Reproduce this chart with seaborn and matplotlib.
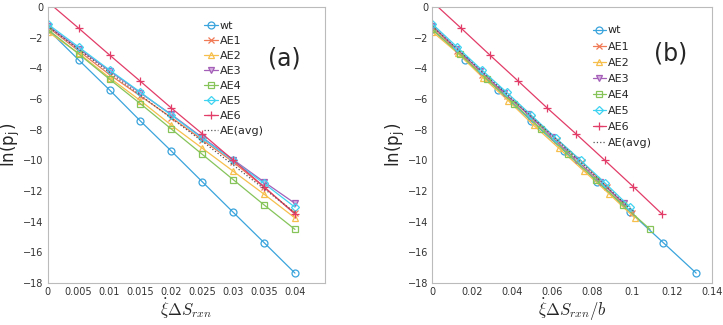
import numpy as np
import pandas as pd
import matplotlib
matplotlib.use("Agg")
import matplotlib.pyplot as plt
import seaborn as sns

sns.set_theme(style="white")
plt.rcParams["font.family"] = ["DejaVu Sans"]
plt.rcParams["mathtext.fontset"] = "cm"

# rate * entropy production (panel a x values)
xi_ds = [0, 0.005, 0.01, 0.015, 0.02, 0.025, 0.03, 0.035, 0.04]

series_names = ["wt", "AE1", "AE2", "AE3", "AE4", "AE5", "AE6", "AE(avg)"]
wt = [-1.45, -3.44, -5.40, -7.43, -9.39, -11.39, -13.38, -15.36, -17.35]
ae1 = [-1.30, -2.85, -4.40, -5.80, -7.20, -8.65, -10.10, -11.75, -13.45]
ae2 = [-1.60, -3.00, -4.60, -6.10, -7.70, -9.20, -10.70, -12.20, -13.75]
ae3 = [-1.20, -2.70, -4.15, -5.60, -7.00, -8.50, -9.95, -11.40, -12.80]
ae4 = [-1.45, -3.05, -4.70, -6.30, -7.95, -9.60, -11.25, -12.90, -14.50]
ae5 = [-1.10, -2.60, -4.10, -5.55, -7.05, -8.55, -10.00, -11.50, -13.05]
ae6 = [0.35, -1.37, -3.12, -4.84, -6.58, -8.26, -9.98, -11.72, -13.50]
ae_avg = [-1.25, -2.75, -4.25, -5.75, -7.25, -8.75, -10.30, -11.85, -13.40]
ln_p = [wt, ae1, ae2, ae3, ae4, ae5, ae6, ae_avg]

# b values per series (panel b x = xi_ds / b)
b_vals = [0.303, 0.400, 0.395, 0.417, 0.367, 0.404, 0.348, 0.396]

colors = ["#3aa4dc", "#f07a55", "#f6bf4c", "#a45fb8", "#86c45a", "#3fd3f2", "#e23c68", "#555555"]
markers = ["o", "x", "^", "v", "s", "D", "+", None]
msizes = [5, 4, 5, 5, 4, 4.5, 6, 0]

fig = plt.figure(figsize=(7.23, 3.25), dpi=100)
ax_a = fig.add_axes([0.066, 0.129, 0.383, 0.849])
ax_b = fig.add_axes([0.598, 0.129, 0.387, 0.849])

for ax, panel in [(ax_a, "a"), (ax_b, "b")]:
    for i, name in enumerate(series_names):
        x = np.array(xi_ds) if panel == "a" else np.array(xi_ds) / b_vals[i]
        df = pd.DataFrame({"x": x, "y": ln_p[i]})
        kw = dict(color=colors[i], lw=0.9, label=name, sort=False, ax=ax)
        if markers[i] is None:
            sns.lineplot(data=df, x="x", y="y", linestyle=":", **kw)
        else:
            mfc = colors[i] if markers[i] in ("x", "+") else "none"
            if markers[i] == "v":
                mfc = "#d6b0e0"
            sns.lineplot(data=df, x="x", y="y", marker=markers[i], ms=msizes[i],
                         mfc=mfc, mec=colors[i], mew=0.9, **kw)

    ax.set_ylim(-18, 0)
    ax.set_yticks(np.arange(-18, 1, 2))
    ax.set_ylabel(r"ln(p$_\mathregular{j}$)", fontsize=12, labelpad=0)
    ax.tick_params(direction="in", length=3, labelsize=7, colors="#333333", pad=3)
    for sp in ax.spines.values():
        sp.set_color("#bbbbbb")
        sp.set_linewidth(0.8)

ax_a.legend(loc="upper left", bbox_to_anchor=(0.55, 0.965), frameon=False,
            fontsize=8, handlelength=1.2, handletextpad=0.15,
            labelspacing=0.45, borderaxespad=0)
ax_b.legend(loc="upper left", bbox_to_anchor=(0.557, 0.95), frameon=False,
            fontsize=8, handlelength=1.2, handletextpad=0.15,
            labelspacing=0.55, borderaxespad=0)

ax_a.set_xlim(0, 0.0448)
ax_a.set_xticks(xi_ds)
ax_a.set_xticklabels(["0", "0.005", "0.01", "0.015", "0.02", "0.025", "0.03", "0.035", "0.04"])
ax_a.set_xlabel(r"$\dot{\xi}\Delta S_{rxn}$", fontsize=12, labelpad=0)
ax_a.text(0.856, 0.815, "(a)", transform=ax_a.transAxes, fontsize=17, ha="center", va="center")

ax_b.set_xlim(0, 0.14)
ax_b.set_xticks(np.arange(0, 0.141, 0.02))
ax_b.set_xticklabels(["0", "0.02", "0.04", "0.06", "0.08", "0.1", "0.12", "0.14"])
ax_b.set_xlabel(r"$\dot{\xi}\Delta S_{rxn}/b$", fontsize=12, labelpad=0)
ax_b.text(0.85, 0.833, "(b)", transform=ax_b.transAxes, fontsize=17, ha="center", va="center")

fig.savefig("out.png", dpi=100)
